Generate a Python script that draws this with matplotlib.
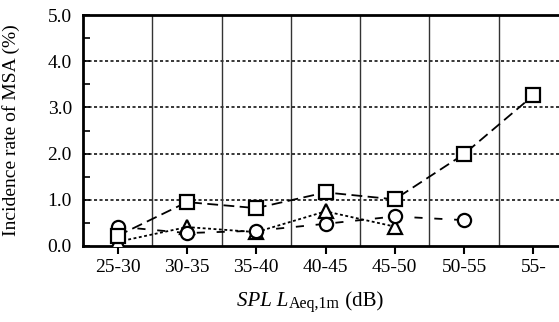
import matplotlib.pyplot as plt
import numpy as np

plt.rcParams["font.family"] = "Liberation Serif"

categories = ["25-30", "30-35", "35-40", "40-45", "45-50", "50-55", "55-"]
squares = [0.22, 0.95, 0.82, 1.16, 1.01, 1.99, 3.26]
circles = [0.42, 0.28, 0.33, 0.48, 0.64, 0.56]
triangles = [0.09, 0.41, 0.30, 0.75, 0.42]

x = np.arange(len(categories))

fig = plt.figure(figsize=(5.59, 3.22), dpi=100)
ax = fig.add_axes([83 / 559, 76 / 322, 485 / 559, 231 / 322])

# grid: dotted horizontals, solid verticals between categories
for y in [1, 2, 3, 4]:
    ax.axhline(y, color="black", lw=1.1, ls=(0, (2, 1.6)), zorder=1)
for xb in np.arange(0.5, len(categories) - 0.5, 1):
    ax.axvline(xb, color="#333333", lw=1.0, zorder=1)

mk = dict(color="black", mfc="white", mec="black", mew=1.6, ms=9.5, lw=1.3, zorder=3)
ax.plot(x[: len(triangles)], triangles, marker="^", dashes=(1.6, 1.4), **mk)
ax.plot(x[: len(circles)], circles, marker="o", dashes=(4.5, 6.5), **mk)
ax.plot(x, squares, marker="s", dashes=(6, 3), **mk)

ax.set_xlim(-0.5, 6.5)
ax.set_ylim(0, 5)
ax.set_xticks(x)
ax.set_xticklabels(categories)
ax.set_yticks(np.arange(0, 5.1, 1))
ax.set_yticklabels([f"{v:.1f}" for v in np.arange(0, 5.1, 1)])
ax.set_yticks(np.arange(0.5, 5, 1), minor=True)

ax.tick_params(axis="x", direction="out", length=6, width=1.5, labelsize=14, pad=3)
ax.tick_params(axis="y", which="both", direction="in", length=5, width=1.2,
               labelsize=14, pad=8)

for side in ["left", "bottom", "top"]:
    ax.spines[side].set_linewidth(2)
ax.spines["right"].set_visible(False)

ax.set_ylabel("Incidence rate of MSA (%)", fontsize=14)
ax.yaxis.set_label_coords((20 - 83) / 485, 0.5)

# x label built from pieces: italic SPL L, smaller upright subscript, (dB)
t1 = fig.text(237 / 559, 1 - 311 / 322, "SPL L", fontsize=15, style="italic",
              ha="left", va="bottom")
t2 = ax.annotate("Aeq,1m", xy=(1, 0), xycoords=t1, xytext=(0.5, -1),
                 textcoords="offset points", fontsize=11.5, va="bottom")
ax.annotate(" (dB)", xy=(1, 0), xycoords=(t2, t1), fontsize=15, va="bottom")

plt.savefig("out.png", dpi=100)
